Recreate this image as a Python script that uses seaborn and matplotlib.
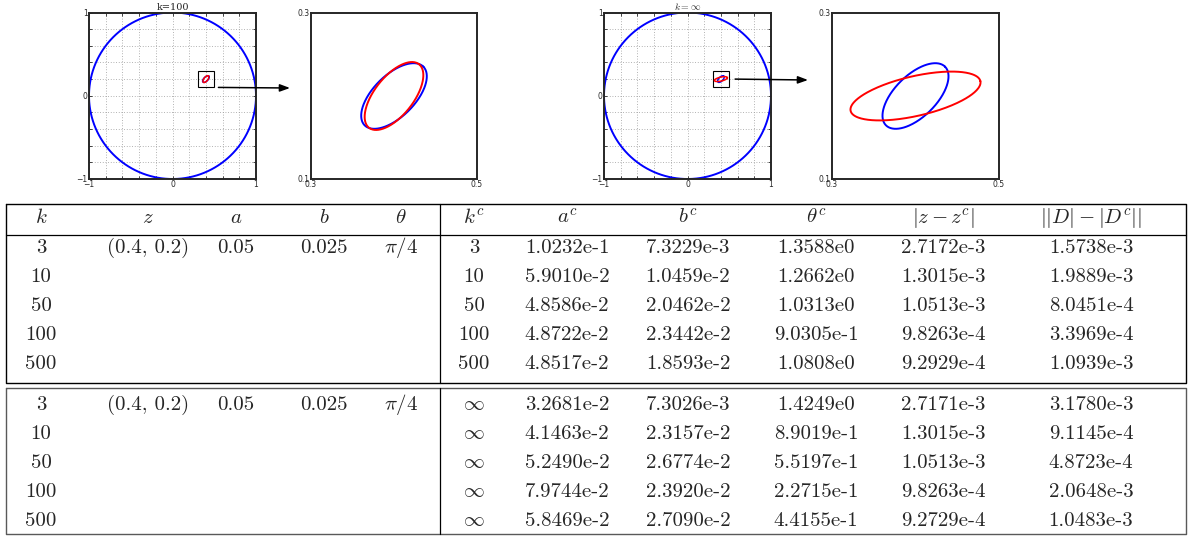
import numpy as np
import pandas as pd
import matplotlib
matplotlib.use("Agg")
import matplotlib.pyplot as plt
import seaborn as sns

sns.set_style("ticks")
plt.rcParams["font.family"] = ["DejaVu Sans"]
plt.rcParams["mathtext.fontset"] = "cm"
plt.rcParams["axes.linewidth"] = 1.4

# true ellipse
z_true = (0.4, 0.2)
a_true = 0.05
b_true = 0.025
theta_true = np.pi / 4

k_values = ["3", "10", "50", "100", "500"]
kc_finite = ["3", "10", "50", "100", "500"]
kc_inf = [r"$\infty$"] * 5

# fitted values, finite k
ac_fin = [1.0232e-1, 5.9010e-2, 4.8586e-2, 4.8722e-2, 4.8517e-2]
bc_fin = [7.3229e-3, 1.0459e-2, 2.0462e-2, 2.3442e-2, 1.8593e-2]
thc_fin = [1.3588e0, 1.2662e0, 1.0313e0, 9.0305e-1, 1.0808e0]
dz_fin = [2.7172e-3, 1.3015e-3, 1.0513e-3, 9.8263e-4, 9.2929e-4]
dd_fin = [1.5738e-3, 1.9889e-3, 8.0451e-4, 3.3969e-4, 1.0939e-3]

# fitted values, k = infinity
ac_inf = [3.2681e-2, 4.1463e-2, 5.2490e-2, 7.9744e-2, 5.8469e-2]
bc_inf = [7.3026e-3, 2.3157e-2, 2.6774e-2, 2.3920e-2, 2.7090e-2]
thc_inf = [1.4249e0, 8.9019e-1, 5.5197e-1, 2.2715e-1, 4.4155e-1]
dz_inf = [2.7171e-3, 1.3015e-3, 1.0513e-3, 9.8263e-4, 9.2729e-4]
dd_inf = [3.1780e-3, 9.1145e-4, 4.8723e-4, 2.0648e-3, 1.0483e-3]

headers = [r"$k$", r"$z$", r"$a$", r"$b$", r"$\theta$", r"$k^c$", r"$a^c$",
           r"$b^c$", r"$\theta^c$", r"$|z-z^c|$", r"$||D|-|D^c||$"]

PLOT_ROW = 3  # k = 100 is the one shown above the table

W, H = 1193, 538
fig = plt.figure(figsize=(W / 100, H / 100), dpi=100)


def px_axes(x0, y0, x1, y1):
    return fig.add_axes([x0 / W, 1 - y1 / H, (x1 - x0) / W, (y1 - y0) / H])


def ellipse_df(cx, cy, a, b, th, n=300):
    t = np.linspace(0, 2 * np.pi, n)
    x = cx + a * np.cos(t) * np.cos(th) - b * np.sin(t) * np.sin(th)
    y = cy + a * np.cos(t) * np.sin(th) + b * np.sin(t) * np.cos(th)
    return pd.DataFrame({"x": x, "y": y})


def draw_curve(ax, df, color, lw=1.4):
    sns.lineplot(data=df, x="x", y="y", sort=False, estimator=None,
                 color=color, lw=lw, ax=ax)


def overview(ax, ac, bc, thc, title, arrow_y, arrow_x0, arrow_end):
    t = np.linspace(0, 2 * np.pi, 400)
    circle = pd.DataFrame({"x": np.cos(t), "y": np.sin(t)})
    draw_curve(ax, circle, "blue")
    draw_curve(ax, ellipse_df(*z_true, a_true, b_true, theta_true), "blue", 1.1)
    draw_curve(ax, ellipse_df(*z_true, ac, bc, thc), "red", 1.1)
    ax.add_patch(plt.Rectangle((0.3, 0.1), 0.2, 0.2, fill=False, ec="k", lw=0.8))
    ticks = np.linspace(-1, 1, 11)
    labels = ["\u22121" if abs(v + 1) < 1e-9 else "0" if abs(v) < 1e-9
              else "1" if abs(v - 1) < 1e-9 else "" for v in ticks]
    ax.set_xlim(-1.02, 1.02)
    ax.set_ylim(-1, 1)
    ax.set_xticks(ticks)
    ax.set_yticks(ticks)
    ax.set_xticklabels(labels)
    ax.set_yticklabels(labels)
    ax.set_xlim(-1, 1)
    ax.tick_params(direction="in", length=2, width=0.6, labelsize=5.5, pad=1,
                   top=True, right=True)
    ax.set_xlabel("")
    ax.set_ylabel("")
    ax.grid(True, ls=(0, (1, 2.2)), color="0.6", lw=0.6)
    ax.set_title(title, fontsize=7, pad=1.5, family="DejaVu Serif")
    ax.annotate("", xy=(arrow_end[0] / W, 1 - arrow_end[1] / H),
                xycoords="figure fraction", xytext=(arrow_x0, arrow_y),
                textcoords="data", annotation_clip=False,
                arrowprops=dict(arrowstyle="-|>,head_length=0.6,head_width=0.22",
                                color="k", lw=1.1, shrinkA=0, shrinkB=0))


def zoomed(ax, ac, bc, thc):
    draw_curve(ax, ellipse_df(*z_true, a_true, b_true, theta_true), "blue")
    draw_curve(ax, ellipse_df(*z_true, ac, bc, thc), "red")
    ax.set_xlim(0.3, 0.5)
    ax.set_ylim(0.1, 0.3)
    ax.set_xticks([0.3, 0.5])
    ax.set_yticks([0.1, 0.3])
    ax.set_xticklabels(["0.3", "0.5"])
    ax.set_yticklabels(["0.1", "0.3"])
    ax.tick_params(direction="in", length=0, labelsize=5.5, pad=1)
    ax.set_xlabel("")
    ax.set_ylabel("")


ax1 = px_axes(89, 12.5, 256, 179)
overview(ax1, ac_fin[PLOT_ROW], bc_fin[PLOT_ROW], thc_fin[PLOT_ROW],
         "k=100", 0.1, 0.55, (290, 88))
ax2 = px_axes(311, 13, 477, 179)
zoomed(ax2, ac_fin[PLOT_ROW], bc_fin[PLOT_ROW], thc_fin[PLOT_ROW])
ax3 = px_axes(604, 12.5, 771, 179)
overview(ax3, ac_inf[PLOT_ROW], bc_inf[PLOT_ROW], thc_inf[PLOT_ROW],
         r"$k=\infty$", 0.2, 0.57, (808, 80))
ax4 = px_axes(832, 13, 999, 179)
zoomed(ax4, ac_inf[PLOT_ROW], bc_inf[PLOT_ROW], thc_inf[PLOT_ROW])

# ---- table ----
tab = fig.add_axes([0, 0, 1, 1])
tab.set_xlim(0, W)
tab.set_ylim(H, 0)
tab.axis("off")

col_x = [41, 148, 236, 324, 401, 474, 567, 688, 816, 943, 1091]
LEFT, RIGHT, DIV = 5.5, 1186, 440

# group boxes
tab.plot([LEFT, RIGHT, RIGHT, LEFT, LEFT], [204, 204, 382.5, 382.5, 204], color="k", lw=1.0)
tab.plot([LEFT, RIGHT], [234.5, 234.5], color="k", lw=0.9)
tab.plot([DIV, DIV], [204, 382.5], color="k", lw=0.9)
tab.plot([LEFT, RIGHT, RIGHT, LEFT, LEFT], [387.5, 387.5, 534, 534, 387.5], color="0.35", lw=1.0)
tab.plot([DIV, DIV], [387.5, 534], color="k", lw=0.9)

FS = 15
for x, h in zip(col_x, headers):
    tab.text(x, 223, h, ha="center", va="baseline", fontsize=FS)


def fmt(v):
    m, e = f"{v:.4e}".split("e")
    return f"{m}e{int(e)}"


def fill_group(base, kc, ac, bc, thc, dz, dd):
    for i in range(5):
        y = base + 28.9 * i
        row = [k_values[i], "", "", "", "", kc[i], fmt(ac[i]), fmt(bc[i]),
               fmt(thc[i]), fmt(dz[i]), fmt(dd[i])]
        if i == 0:
            row[1] = f"({z_true[0]}, {z_true[1]})"
            row[2] = f"{a_true}"
            row[3] = f"{b_true}"
            row[4] = r"$\pi/4$"
        for x, s in zip(col_x, row):
            if not s:
                continue
            if s.startswith("$"):
                tab.text(x, y, s, ha="center", va="baseline", fontsize=FS)
            else:
                tab.text(x, y, s, ha="center", va="baseline", fontsize=FS,
                         family="cmr10")


fill_group(253, kc_finite, ac_fin, bc_fin, thc_fin, dz_fin, dd_fin)
fill_group(410, kc_inf, ac_inf, bc_inf, thc_inf, dz_inf, dd_inf)

fig.savefig("out.png", dpi=100)
